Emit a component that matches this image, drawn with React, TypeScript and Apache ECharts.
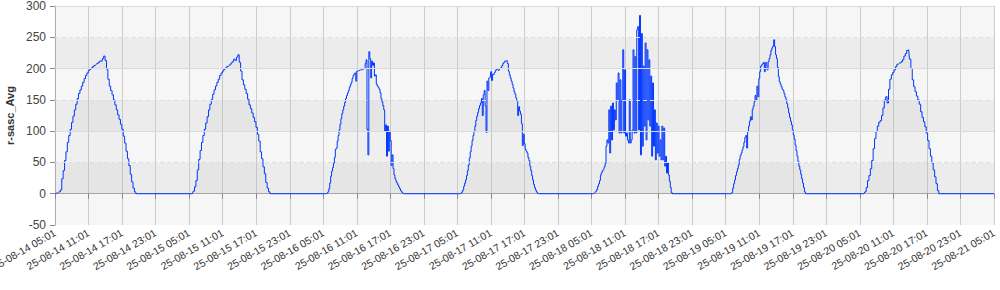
import React, { useEffect, useRef } from "react";
import * as echarts from "echarts";

// ---- axis definitions ----
const axisStart = "2025-08-14 05:01";
const axisEnd = "2025-08-21 05:01";
const xTickHours = 6;
const yMin = -50;
const yMax = 300;
const yStep = 50;
const solidGridValues = [100, 200, 300];
const dashedGridValues = [50, 150, 250];
const yAxisName = "r-sasc_Avg";

// ---- data: one array per day, sampled from a start time at a fixed step ----
const dayStarts = [
  "2025-08-14 05:06",
  "2025-08-15 05:06",
  "2025-08-16 05:05",
  "2025-08-17 05:03",
  "2025-08-18 05:01",
  "2025-08-19 05:01",
  "2025-08-20 05:01",
  "2025-08-21 05:01",
];
const dayStepMinutes = [15, 15, 10, 10, 10, 10, 15, 10];

const day14 = [0, 1, 2, 3, 6, 24, 37, 53, 67, 82, 93, 103, 114, 124, 134, 143, 152, 160, 166, 172, 178, 184, 189, 193, 197, 199, 201, 203, 205, 206, 208, 210, 212, 212, 216, 220, 213, 199, 183, 172, 165, 158, 150, 142, 134, 126, 119, 111, 103, 92, 81, 68, 56, 45, 31, 19, 9, 3, 0, 0];
const day15 = [0, 0, 0, 4, 11, 21, 38, 55, 69, 82, 93, 103, 113, 123, 134, 143, 151, 159, 166, 172, 178, 183, 189, 193, 196, 199, 201, 203, 204, 206, 209, 211, 215, 213, 218, 222, 210, 196, 182, 174, 167, 160, 151, 142, 136, 129, 122, 115, 106, 95, 84, 67, 56, 43, 32, 18, 9, 3, 0, 0];
const day16 = [0, 0, 0, 0, 1, 3, 8, 17, 28, 36, 42, 49, 58, 71, 73, 84, 93, 102, 111, 120, 128, 134, 140, 146, 152, 157, 161, 165, 170, 174, 178, 184, 189, 191, 193, 180, 196, 196, 197, 197, 198, 198, 199, 199, 200, 208, 214, 103, 62, 227, 216, 185, 212, 205, 209, 188, 190, 175, 172, 170, 167, 161, 152, 147, 141, 134, 100, 110, 60, 108, 68, 100, 85, 45, 62, 40, 30, 24, 20, 17, 14, 11, 8, 5, 3, 1, 0, 0];
const day17 = [0, 0, 0, 0, 1, 3, 6, 12, 17, 22, 29, 37, 46, 57, 67, 76, 85, 93, 100, 108, 117, 124, 130, 136, 141, 145, 152, 125, 158, 165, 140, 98, 180, 165, 185, 186, 195, 181, 191, 190, 194, 197, 199, 198, 197, 199, 200, 202, 205, 208, 210, 212, 212, 213, 208, 196, 190, 185, 180, 175, 169, 163, 159, 153, 149, 125, 139, 132, 127, 112, 77, 95, 80, 71, 68, 65, 58, 53, 44, 37, 29, 22, 15, 10, 6, 3, 1, 0];
const day18 = [0, 0, 0, 1, 2, 4, 7, 12, 16, 21, 30, 34, 37, 38, 43, 48, 76, 86, 81, 134, 65, 140, 86, 145, 102, 134, 118, 177, 150, 193, 97, 182, 97, 150, 230, 97, 198, 92, 97, 86, 81, 150, 81, 86, 102, 230, 97, 219, 97, 262, 267, 102, 285, 62, 256, 76, 204, 108, 241, 86, 230, 118, 214, 108, 188, 60, 177, 76, 134, 54, 113, 65, 108, 60, 86, 54, 108, 54, 105, 44, 60, 33, 49, 30, 20, 10, 2, 0];
const day19 = [0, 0, 0, 0, 0, 0, 0, 2, 9, 16, 22, 29, 35, 40, 46, 55, 61, 65, 70, 75, 82, 90, 93, 73, 100, 108, 116, 123, 118, 135, 140, 147, 157, 150, 172, 155, 184, 195, 204, 206, 208, 210, 195, 209, 210, 198, 211, 216, 222, 229, 233, 236, 246, 235, 222, 216, 202, 187, 179, 175, 171, 167, 165, 160, 155, 151, 144, 137, 129, 122, 116, 110, 102, 94, 87, 78, 69, 60, 52, 44, 38, 31, 24, 17, 10, 3, 0];
const day20 = [0, 0, 0, 0, 3, 10, 21, 29, 40, 53, 72, 88, 99, 108, 114, 117, 125, 137, 150, 155, 145, 167, 183, 190, 194, 198, 203, 207, 208, 209, 211, 214, 220, 224, 229, 230, 215, 200, 182, 171, 163, 156, 150, 143, 131, 122, 115, 107, 97, 85, 72, 60, 49, 38, 27, 16, 5, 0];
const day21 = [0];

const dayValues = [day14, day15, day16, day17, day18, day19, day20, day21];

// ---- helpers ----
function parseUTC(s: string): number {
  const [d, t] = s.split(" ");
  const [Y, M, D] = d.split("-").map(Number);
  const [h, m] = t.split(":").map(Number);
  return Date.UTC(Y, M - 1, D, h, m);
}
const startMs = parseUTC(axisStart);
const endMs = parseUTC(axisEnd);
const HOUR = 3600000;

function pad(n: number) {
  return String(n).padStart(2, "0");
}
function formatHours(h: number): string {
  const d = new Date(startMs + Math.round(h * HOUR));
  return `${pad(d.getUTCFullYear() % 100)}-${pad(d.getUTCMonth() + 1)}-${pad(
    d.getUTCDate()
  )} ${pad(d.getUTCHours())}:${pad(d.getUTCMinutes())}`;
}

function buildData(): [number, number][] {
  const out: [number, number][] = [];
  dayValues.forEach((vals, i) => {
    const s = parseUTC(dayStarts[i]);
    const step = dayStepMinutes[i] * 60000;
    vals.forEach((v, k) => {
      out.push([(s + k * step - startMs) / HOUR, v]);
    });
  });
  return out;
}

const FONT = "'Liberation Sans', Arial, sans-serif";

export default function App() {
  const ref = useRef<HTMLDivElement>(null);
  useEffect(() => {
    if (!ref.current) return;
    const chart = echarts.init(ref.current, null, { renderer: "svg" });
    const data = buildData();
    chart.setOption({
      animation: false,
      backgroundColor: "#ffffff",
      grid: {
        left: 55,
        right: 6,
        top: 6,
        bottom: 65,
        containLabel: false,
        outerBoundsMode: "none",
      },
      xAxis: {
        type: "value",
        min: 0,
        max: (endMs - startMs) / HOUR,
        interval: xTickHours,
        axisLine: { show: true, lineStyle: { color: "#aaaaaa", width: 1 } },
        axisTick: { show: true, length: 5, lineStyle: { color: "#888888" } },
        splitLine: { show: true, lineStyle: { color: "#cccccc", width: 1 } },
        axisLabel: {
          rotate: 30,
          fontSize: 10.5,
          fontFamily: FONT,
          color: "#333333",
          margin: 7,
          showMinLabel: true,
          showMaxLabel: true,
          hideOverlap: false,
          formatter: (v: number) => formatHours(v),
        },
      },
      yAxis: {
        type: "value",
        min: yMin,
        max: yMax,
        interval: yStep,
        name: yAxisName,
        nameLocation: "middle",
        nameGap: 34,
        nameTextStyle: {
          fontFamily: FONT,
          fontWeight: "bold",
          fontSize: 11,
          color: "#333333",
        },
        axisLine: { show: true, lineStyle: { color: "#aaaaaa", width: 1 } },
        axisTick: { show: true, length: 5, lineStyle: { color: "#888888" } },
        axisLabel: { fontSize: 12, fontFamily: FONT, color: "#444444", margin: 9 },
        splitLine: { show: false },
        splitArea: {
          show: true,
          areaStyle: { color: ["#f6f6f6", "#ececec"] },
        },
      },
      series: [
        {
          type: "line",
          data: [],
          silent: true,
          z: 1,
          markLine: {
            silent: true,
            symbol: ["none", "none"],
            label: { show: false },
            animation: false,
            data: [
              ...solidGridValues.map((v) => ({
                yAxis: v,
                lineStyle: { type: "solid", color: "#dadada", width: 1 },
              })),
              ...dashedGridValues.map((v) => ({
                yAxis: v,
                lineStyle: { type: [4, 3], color: "#dddddd", width: 1 },
              })),
            ],
          },
        },
        {
          type: "line",
          name: yAxisName,
          data,
          z: 3,
          silent: true,
          showSymbol: false,
          step: "middle",
          lineStyle: { color: "#0036ff", width: 1 },
          itemStyle: { color: "#0036ff" },
          areaStyle: { color: "rgba(0,0,0,0.04)" },
        },
      ],
    });
    return () => chart.dispose();
  }, []);
  return (
    <div
      ref={ref}
      style={{ position: "fixed", left: 0, top: 0, width: 1000, height: 290 }}
    />
  );
}
